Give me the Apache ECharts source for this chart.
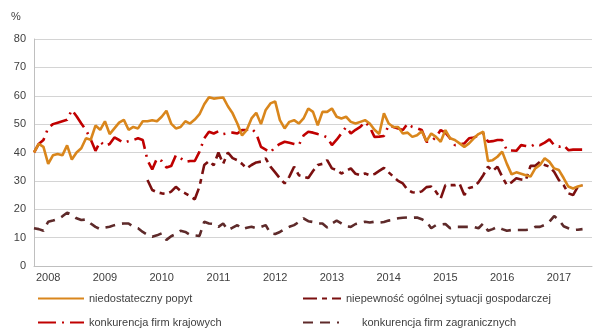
<!DOCTYPE html>
<html lang="pl">
<head>
    <meta charset="UTF-8">
    <title>Bariery</title>
    <script src="https://cdn.jsdelivr.net/npm/echarts@6/dist/echarts.min.js"></script>
    <style>
        html, body { margin: 0; padding: 0; background: #fff; }
        #main { width: 596px; height: 331px; }
    </style>
</head>
<body>
<div id="main"></div>
<script>
    // dane miesieczne od 2007-10 do 2017-06
    var startYear = 2007, startMonth = 10, extraSlots = 2;
    var yearLabels = ['2008', '2009', '2010', '2011', '2012', '2013', '2014', '2015', '2016', '2017'];

    var popyt = [40, 43, 42, 36, 39, 39.5, 39, 42.5, 37.5, 40, 41.5, 45, 44.5, 49.5, 48, 51, 46.5, 48.5, 50.5, 51.5,
        48, 49, 48.5, 51, 51, 51.4, 51, 52.6, 54.7, 50.2, 48.5, 49, 51, 50.2, 51.6, 53.5, 57, 59.5, 59, 59.2,
        59.4, 56.3, 53.8, 50.2, 46, 48, 52, 54, 50, 55, 57.3, 58, 51.4, 48.5, 50.8, 51.4, 50.2, 52, 55.5, 54.3,
        49.6, 54.3, 54.3, 55.5, 52.6, 52, 52.6, 50.8, 50.2, 50.8, 51.4, 50.2, 48, 46.5, 53.8, 50.2, 49, 49, 46.7, 47,
        45.5, 46.1, 47.5, 44, 46.7, 45.5, 43.8, 47.9, 45, 44.4, 43.2, 42, 43.2, 45, 46.5, 47.3, 37, 37.3, 38.5, 40.3,
        36, 32.3, 33, 32.5, 32, 31.5, 34.4, 35.6, 38, 36.7, 34.4, 33.8, 31, 28, 27.3, 28, 28.5];

    var niepewnosc = [null, null, null, null, null, null, null, null, null, null, null, null, null, null, null, null,
        null, null, null, null, null, null, null, null, 30.3, 26.8, 26, 25.6, 25.4, 26.2, 27.9, 26.5, 25.6, 24.6, 23.5, 28,
        35.6, 37, 35.5, 40, 36, 40, 38, 37.3, 36, 34.4, 35.6, 36.5, 36.8, 37.9, 35, 33, 30.9, 29.1, 31.5, 35,
        32, 31.5, 31, 33.5, 35.6, 36, 37.3, 34.4, 33.8, 32.6, 33.5, 34.4, 32.5, 32, 32.6, 32, 32.4, 33.5, 34.6, 33,
        31.5, 30, 29.1, 26.8, 26, 25.8, 26.3, 27.8, 28, 26.2, 23.8, 28.5, 28.5, 28.5, 29, 25, 27.5, 27.9, 29.5, 32,
        35, 33.5, 35, 31.5, 28.5, 29.5, 30.9, 30.5, 30.3, 35.3, 35.3, 36.7, 35.6, 35, 33.2, 30.3, 28.5, 25.6, 25, 27.9, 28.5];

    var krajowe = [40, 43, 44.4, 48.7, 50, 50.5, 51, 51.5, 55, 52.8, 50.2, 47.9, 44.6, 40.6, 43.8, 42.3, 43, 45.3, 44.4, 43.4,
        44, 44.4, 45, 44.4, 37.3, 34, 37.9, 37, 34.7, 35.2, 39, 38, 36.7, 37, 37, 40.3, 45, 47.3, 46.7, 47.5,
        46.5, 46.8, 47, 46.7, 47.9, 48, 48.5, 46.7, 42, 41, 40, 42, 43, 43.8, 43.4, 43, 42.6, 46, 47.3, 47,
        46.5, 46.1, 45.3, 42.6, 44.5, 46.7, 49, 46.7, 48, 49, 50.8, 49, 45.5, 45.6, 45.8, 49.6, 49, 48.5, 47.9, 50.2,
        49, 48.5, 47.9, 43.8, 43.8, 45.5, 47.9, 47, 45, 42.6, 43, 43.2, 45, 45.3, 46, 46.7, 43.8, 44, 44.4, 44.4,
        40.8, 40.7, 40.6, 42.6, 42.3, 42, 43, 42.6, 43.5, 44.6, 42.6, 42, 42.6, 40.8, 41, 41, 41];

    var zagraniczne = [13.3, 13, 12.4, 15.6, 16, 16.5, 17.5, 18.8, 18, 16.8, 16.2, 16.4, 15, 13.8, 13, 13.5, 13.8, 14.4, 14.8, 15,
        15, 13.8, 13.3, 12, 11, 10.3, 10.8, 11.5, 9.2, 10.5, 11.3, 12.4, 12, 11, 10.8, 10.6, 15.6, 15, 14.8, 13.8,
        15, 12.7, 13.5, 14.4, 13, 13.5, 13.8, 13.3, 13.8, 14.4, 11.5, 11.3, 12, 13, 13.8, 14.4, 15.5, 16.8, 15.8, 15.5,
        15, 15, 13.6, 15, 16, 15, 14, 13.8, 14.8, 15.2, 15.6, 15.3, 15.6, 15.3, 15.5, 16, 16.3, 16.8, 17, 17.1,
        17, 17.1, 16.5, 15.6, 13.3, 14.4, 14.6, 14.8, 13.3, 13.8, 13.8, 13.8, 13.8, 13.8, 13.3, 15, 12.4, 13, 13.8, 13,
        12.4, 12.7, 12.7, 12.7, 12.7, 12.9, 13.8, 13.8, 14.5, 15.6, 17.6, 16.2, 14, 13.3, 12.7, 12.8, 13];

    var months = [];
    for (var k = 0; k < popyt.length + extraSlots; k++) {
        var m = startMonth - 1 + k;
        var y = startYear + Math.floor(m / 12);
        var mm = (m % 12) + 1;
        months.push(y + '-' + (mm < 10 ? '0' + mm : mm));
    }

    var txt = '#404040';
    var font = 'Liberation Sans';

    function lineSeries(name, data, color, dash, z) {
        return {
            name: name,
            type: 'line',
            data: data,
            symbol: 'none',
            z: z,
            connectNulls: false,
            lineStyle: { color: color, width: 2.6, type: dash, cap: 'butt' },
            itemStyle: { color: color }
        };
    }

    // osobna legenda dla kazdej pozycji, zeby ustawic je w dwoch kolumnach
    function legendAt(name, left, top, w, gap) {
        return {
            data: [name],
            left: left,
            top: top,
            itemWidth: w,
            itemHeight: 10,
            itemGap: 4,
            padding: [0, 0, 0, 0],
            itemStyle: { opacity: 0 },
            textStyle: { color: txt, fontFamily: font, fontSize: 11, padding: [0, 0, 0, gap] }
        };
    }

    var chart = echarts.init(document.getElementById('main'));
    chart.setOption({
        animation: false,
        grid: { left: 34, right: 4, top: 39, height: 227 },
        graphic: [{
            type: 'text', left: 11, top: 11,
            style: { text: '%', fill: txt, font: '11px "Liberation Sans"' }
        }],
        legend: [
            legendAt('niedostateczny popyt', 37, 293, 46, 0),
            legendAt('niepewność ogólnej sytuacji gospodarczej', 302, 293, 38, 0),
            legendAt('konkurencja firm krajowych', 37, 317, 46, 0),
            legendAt('konkurencja firm zagranicznych', 302, 317, 36, 18)
        ],
        xAxis: {
            type: 'category',
            data: months,
            boundaryGap: false,
            axisLine: { lineStyle: { color: '#bfbfbf' } },
            axisTick: { show: false },
            axisLabel: {
                color: txt, fontFamily: font, fontSize: 11, margin: 6,
                interval: function (idx, val) { return val.slice(5) === '01'; },
                formatter: function (val) {
                    var yr = val.slice(0, 4);
                    return yearLabels.indexOf(yr) >= 0 ? yr : '';
                }
            },
            splitLine: { show: false }
        },
        yAxis: {
            type: 'value',
            min: 0, max: 80, interval: 10,
            axisLine: { show: true, lineStyle: { color: '#bfbfbf' } },
            axisTick: { show: false },
            axisLabel: { color: txt, fontFamily: font, fontSize: 11, margin: 8 },
            splitLine: { lineStyle: { color: '#d4d4d4' } }
        },
        series: [
            lineSeries('konkurencja firm zagranicznych', zagraniczne, '#5e2a2a', [10, 7], 2),
            lineSeries('niepewność ogólnej sytuacji gospodarczej', niepewnosc, '#7b1010', [14, 5, 5, 5], 3),
            lineSeries('konkurencja firm krajowych', krajowe, '#c00000', [18, 6, 2, 6], 4),
            lineSeries('niedostateczny popyt', popyt, '#d9861c', 'solid', 5)
        ]
    });
</script>
</body>
</html>
